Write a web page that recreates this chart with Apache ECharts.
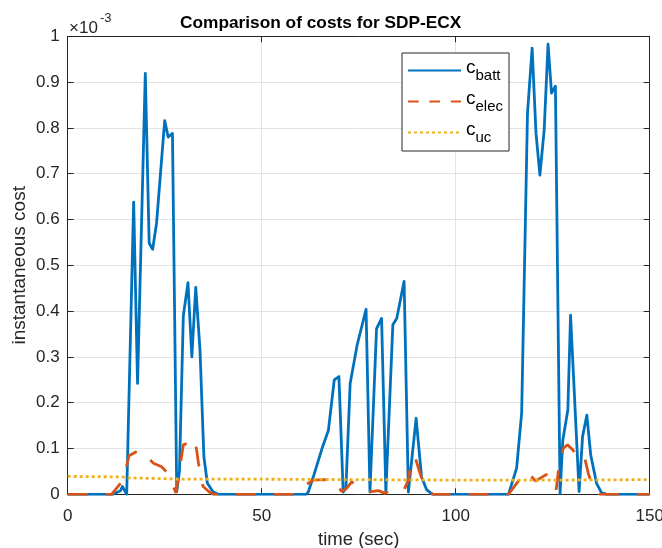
<!DOCTYPE html>
<html>
<head>
<meta charset="utf-8">
<script src="https://cdn.jsdelivr.net/npm/echarts@6/dist/echarts.min.js"></script>
<style>
  html, body { margin: 0; padding: 0; background: #fff; }
  #chart { width: 662px; height: 548px; }
</style>
</head>
<body>
<div id="chart"></div>
<script>
// Instantaneous cost traces (units of 1e-3), sampled at the listed times (sec)
const battTime = [0, 11.7, 13.6, 14.1, 15.2, 17.0, 18.0, 20.0, 21.0, 21.9, 22.9, 25.0, 25.9, 27.0, 28.1, 28.8, 29.8, 31.0, 32.0, 33.0, 34.1, 35.1, 36.0, 37.5, 38.8,
  61.5, 62.0, 63.3, 65.7, 67.2, 68.7, 69.9, 71.0, 71.7, 72.8, 74.6, 76.9, 77.9, 79.6, 80.9, 82.0, 83.8, 84.8, 86.7, 87.8, 89.8, 91.2, 92.5, 94.0,
  113.6, 115.7, 117.0, 118.5, 119.7, 120.7, 121.7, 122.8, 123.8, 124.7, 125.7, 126.9, 127.6, 128.9, 129.6, 130.7, 131.8, 132.7, 133.8, 134.8, 136.3, 137.6, 139.0, 150];
const battCost = [0, 0, 0.008, 0.017, 0.0, 0.638, 0.242, 0.919, 0.548, 0.535, 0.592, 0.816, 0.78, 0.788, 0.006, 0.05, 0.39, 0.462, 0.30, 0.452, 0.315, 0.082, 0.024, 0.005, 0,
  0, 0.005, 0.038, 0.104, 0.14, 0.25, 0.257, 0.005, 0.013, 0.242, 0.326, 0.404, 0.005, 0.362, 0.384, 0.005, 0.37, 0.384, 0.465, 0.005, 0.166, 0.038, 0.01, 0,
  0, 0.057, 0.177, 0.832, 0.974, 0.788, 0.697, 0.795, 0.983, 0.876, 0.891, 0.002, 0.118, 0.184, 0.391, 0.199, 0.006, 0.126, 0.173, 0.086, 0.024, 0.003, 0, 0];

const elecTime = [0, 11.3, 14.3, 15.8, 18.6, 22.1, 24.2, 25.9, 26.8, 27.9, 29.8, 30.7, 32.8, 33.7, 34.9, 36.5, 37.5,
  59.4, 61.2, 63.3, 65.9, 68.9, 70.6, 71.9, 73.2, 75.3, 77.5, 80.1, 81.8, 83.9, 86.7, 87.8, 88.7, 89.5, 90.8, 92.1, 94.2,
  113.6, 115.7, 118.3, 120.6, 123.3, 125.2, 125.9, 126.7, 127.7, 128.8, 130.2, 131.0, 132.0, 133.1, 134.2, 135.7, 137.2, 150];
const elecCost = [0, 0, 0.031, 0.084, 0.097, 0.068, 0.06, 0.045, 0.025, 0.003, 0.108, 0.111, 0.122, 0.068, 0.017, 0.005, 0,
  0, 0.02, 0.031, 0.032, 0.029, 0.006, 0.013, 0.027, 0.017, 0.005, 0.008, 0.002, 0.013, 0.01, 0.031, 0.079, 0.082, 0.046, 0.013, 0,
  0, 0.024, 0.05, 0.029, 0.043, 0.035, 0.01, 0.068, 0.1, 0.108, 0.097, 0.084, 0.09, 0.084, 0.045, 0.008, 0, 0];

const ucTime = [0, 14, 15.5, 20, 30, 50, 75, 100, 125, 150];
const ucCost = [0.039, 0.038, 0.036, 0.035, 0.033, 0.033, 0.032, 0.031, 0.031, 0.032];

const seriesNames = ['c_batt', 'c_elec', 'c_uc'];
const subscripts = { c_batt: 'batt', c_elec: 'elec', c_uc: 'uc' };

const xTicks = { min: 0, max: 150, interval: 50 };
const yTicks = { min: 0, max: 1, interval: 0.1 };

const FONT = '"Liberation Sans", Arial, Helvetica, sans-serif';
const INK = '#262626';
const GRID = '#e3e3e3';

function pairs(t, v) { return t.map((x, i) => [x, v[i]]); }

const chart = echarts.init(document.getElementById('chart'), null, { renderer: 'canvas' });

const tickStyle = { show: true, inside: true, length: 6, lineStyle: { color: INK, width: 1 } };
const lineAx = { show: true, onZero: false, lineStyle: { color: INK, width: 1 } };

chart.setOption({
  animation: false,
  backgroundColor: '#fff',
  title: {
    text: 'Comparison of costs for SDP-ECX',
    left: 175, top: 10,
    textStyle: { fontFamily: FONT, fontSize: 17.3, fontWeight: 'bold', color: '#000' }
  },
  // axis exponent label: ×10^-3
  graphic: [{
    type: 'text', left: 69, top: 20,
    style: { text: '×10', fontFamily: FONT, fontSize: 17, fill: INK }
  }, {
    type: 'text', left: 100, top: 12,
    style: { text: '-3', fontFamily: FONT, fontSize: 13, fill: INK }
  }],
  grid: { left: 67.7, right: 12.3, top: 36.3, bottom: 53.7, containLabel: false, outerBoundsMode: 'none' },
  legend: {
    orient: 'vertical',
    left: 402, top: 53,
    width: 103,
    padding: [5, 6, 6, 5],
    itemWidth: 53, itemHeight: 12, itemGap: 6,
    backgroundColor: '#fff',
    borderColor: INK, borderWidth: 1,
    itemStyle: { opacity: 0 },
    data: [
      { name: 'c_batt' },
      { name: 'c_elec', lineStyle: { type: [10.7, 10.7] } },
      { name: 'c_uc' }
    ],
    formatter: n => '{m|c}{s|' + subscripts[n] + '}',
    textStyle: {
      rich: {
        m: { fontFamily: FONT, fontSize: 19, color: '#000', verticalAlign: 'bottom', padding: [0, 0, 6, 0] },
        s: { fontFamily: FONT, fontSize: 15, color: '#000', verticalAlign: 'bottom' }
      }
    }
  },
  xAxis: [{
    type: 'value', min: xTicks.min, max: xTicks.max, interval: xTicks.interval,
    name: 'time (sec)', nameLocation: 'middle', nameGap: 34,
    nameTextStyle: { fontFamily: FONT, fontSize: 18.5, color: INK },
    axisLine: lineAx, axisTick: tickStyle,
    axisLabel: { fontFamily: FONT, fontSize: 17, color: INK, margin: 14 },
    splitLine: { show: true, lineStyle: { color: GRID, width: 1 } }
  }, {
    type: 'value', position: 'top', min: xTicks.min, max: xTicks.max, interval: xTicks.interval,
    axisLine: lineAx, axisTick: tickStyle, axisLabel: { show: false }, splitLine: { show: false }
  }],
  yAxis: [{
    type: 'value', min: yTicks.min, max: yTicks.max, interval: yTicks.interval,
    name: 'instantaneous cost', nameLocation: 'middle', nameGap: 38, nameMoveOverlap: false,
    nameTextStyle: { fontFamily: FONT, fontSize: 19, color: INK },
    axisLine: lineAx, axisTick: tickStyle,
    axisLabel: {
      fontFamily: FONT, fontSize: 17, color: INK, margin: 8,
      formatter: v => (Math.abs(v) < 1e-9 ? '0' : Math.abs(v - 1) < 1e-9 ? '1' : v.toFixed(1))
    },
    splitLine: { show: true, lineStyle: { color: GRID, width: 1 } }
  }, {
    type: 'value', position: 'right', min: yTicks.min, max: yTicks.max, interval: yTicks.interval,
    axisLine: lineAx, axisTick: tickStyle, axisLabel: { show: false }, splitLine: { show: false }
  }],
  series: [{
    name: seriesNames[0], type: 'line', symbol: 'none', data: pairs(battTime, battCost),
    lineStyle: { color: '#0072BD', width: 2.8, join: 'round' }, itemStyle: { color: '#0072BD' }
  }, {
    name: seriesNames[1], type: 'line', symbol: 'none', data: pairs(elecTime, elecCost),
    lineStyle: { color: '#D95319', width: 2.8, type: [20, 18] }, itemStyle: { color: '#D95319' }
  }, {
    name: seriesNames[2], type: 'line', symbol: 'none', data: pairs(ucTime, ucCost),
    lineStyle: { color: '#EDB120', width: 2.8, type: [3, 3] }, itemStyle: { color: '#EDB120' }
  }]
});
</script>
</body>
</html>
